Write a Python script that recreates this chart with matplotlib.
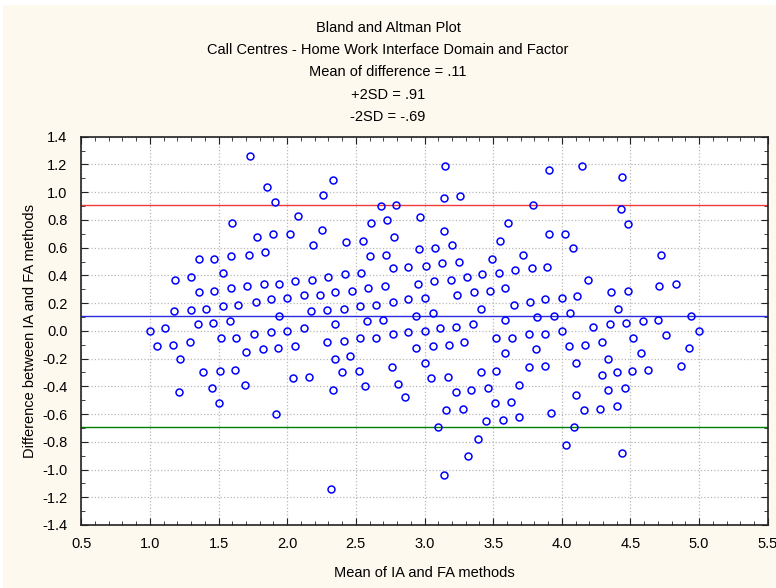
import matplotlib
matplotlib.use("Agg")
import matplotlib.pyplot as plt
from matplotlib.patches import Rectangle
from matplotlib.ticker import MultipleLocator

plt.rcParams['font.family'] = ['Liberation Sans', 'DejaVu Sans']

title_lines = [
    "Bland and Altman Plot",
    "Call Centres - Home Work Interface Domain and Factor",
    "Mean of difference = .11",
    "+2SD = .91",
    "-2SD = -.69",
]
x_label = "Mean of IA and FA methods"
y_label = "Difference between IA and FA methods"

mean_diff = 0.11
upper_sd = 0.91
lower_sd = -0.69

# (mean, difference) pairs
points = [
    (1.60, 0.78), (1.36, 0.52), (1.47, 0.52), (1.59, 0.54), (1.18, 0.37),
    (1.30, 0.39), (1.53, 0.42), (1.36, 0.28), (1.47, 0.29), (1.59, 0.31),
    (1.175, 0.14), (1.30, 0.15), (1.41, 0.16), (1.53, 0.18), (1.64, 0.19),
    (1.00, 0.00), (1.11, 0.02), (1.35, 0.05), (1.46, 0.055), (1.58, 0.07),
    (1.05, -0.11), (1.17, -0.10), (1.29, -0.08), (1.52, -0.05), (1.63, -0.05),
    (1.22, -0.20), (1.39, -0.30), (1.51, -0.29), (1.62, -0.28), (1.21, -0.44),
    (1.45, -0.41), (1.50, -0.52),
    (1.73, 1.26), (1.85, 1.04), (1.91, 0.93), (2.33, 1.09), (2.26, 0.98),
    (2.08, 0.83), (1.78, 0.68), (1.90, 0.70), (2.02, 0.70), (2.25, 0.73),
    (2.19, 0.62), (2.43, 0.64), (2.55, 0.65), (2.61, 0.78), (2.73, 0.80),
    (2.68, 0.90), (2.79, 0.91), (2.78, 0.68), (1.72, 0.55), (1.84, 0.57),
    (2.60, 0.54), (2.72, 0.55), (2.77, 0.45), (2.88, 0.46), (1.71, 0.32),
    (1.83, 0.34), (1.94, 0.34), (2.06, 0.36), (2.18, 0.37), (2.30, 0.39),
    (2.42, 0.41), (2.54, 0.42), (1.77, 0.21), (1.88, 0.23), (2.00, 0.24),
    (2.12, 0.26), (2.24, 0.26), (2.35, 0.28), (2.47, 0.29), (2.59, 0.31),
    (2.71, 0.32), (2.65, 0.19), (2.77, 0.21), (2.88, 0.23), (2.53, 0.18),
    (2.41, 0.16), (2.29, 0.15), (2.17, 0.14), (1.94, 0.11), (2.58, 0.07),
    (2.70, 0.08), (2.35, 0.05), (2.00, 0.00), (2.12, 0.02), (1.88, -0.01),
    (1.76, -0.02), (2.29, -0.08), (2.41, -0.07), (2.53, -0.05), (2.65, -0.05),
    (2.77, -0.02), (2.88, -0.01), (2.06, -0.11), (1.93, -0.125), (1.82, -0.13),
    (1.70, -0.15), (2.35, -0.20), (2.46, -0.18), (2.76, -0.26), (2.52, -0.29),
    (2.40, -0.30), (2.04, -0.34), (2.16, -0.33), (1.69, -0.39), (2.335, -0.43),
    (2.57, -0.40), (2.81, -0.38), (2.86, -0.48), (1.92, -0.60), (2.32, -1.14),
    (3.15, 1.19), (3.91, 1.16), (3.14, 0.96), (3.26, 0.97), (3.79, 0.91),
    (2.97, 0.82), (3.61, 0.78), (3.14, 0.72), (3.55, 0.65), (3.91, 0.70),
    (4.02, 0.70), (4.08, 0.60), (2.96, 0.59), (3.08, 0.60), (3.20, 0.62),
    (3.49, 0.52), (3.72, 0.55), (3.01, 0.47), (3.13, 0.49), (3.25, 0.50),
    (2.95, 0.34), (3.07, 0.36), (3.19, 0.37), (3.31, 0.39), (3.42, 0.41),
    (3.54, 0.42), (3.66, 0.44), (3.78, 0.45), (3.89, 0.46), (3.005, 0.24),
    (3.24, 0.26), (3.36, 0.28), (3.48, 0.29), (3.59, 0.31), (3.65, 0.19),
    (3.77, 0.21), (3.88, 0.23), (4.00, 0.24), (4.11, 0.25), (3.41, 0.16),
    (2.94, 0.11), (3.06, 0.13), (3.82, 0.10), (3.94, 0.11), (4.06, 0.13),
    (3.59, 0.075), (3.00, 0.00), (3.11, 0.02), (3.23, 0.03), (3.35, 0.05),
    (3.29, -0.08), (3.52, -0.055), (3.64, -0.05), (3.76, -0.02), (3.88, -0.02),
    (4.00, 0.00), (2.94, -0.125), (3.06, -0.11), (3.18, -0.10), (3.81, -0.13),
    (4.05, -0.11), (3.59, -0.16), (3.00, -0.23), (4.10, -0.23), (3.41, -0.30),
    (3.52, -0.29), (3.76, -0.26), (3.88, -0.25), (3.05, -0.34), (3.17, -0.33),
    (3.69, -0.39), (3.23, -0.44), (3.34, -0.43), (3.46, -0.41), (4.10, -0.46),
    (3.16, -0.57), (3.28, -0.56), (3.51, -0.52), (3.63, -0.51), (3.45, -0.65),
    (3.57, -0.64), (3.69, -0.62), (3.92, -0.59), (3.10, -0.69), (4.09, -0.69),
    (4.03, -0.82), (3.39, -0.78), (3.32, -0.90), (3.14, -1.04),
    (4.15, 1.19), (4.44, 1.11), (4.43, 0.88), (4.485, 0.77), (4.72, 0.55),
    (4.19, 0.37), (4.36, 0.28), (4.48, 0.29), (4.71, 0.32), (4.83, 0.34),
    (4.41, 0.16), (4.94, 0.11), (4.23, 0.03), (4.35, 0.05), (4.47, 0.055),
    (4.59, 0.07), (4.70, 0.08), (5.00, 0.00), (4.76, -0.03), (4.52, -0.05),
    (4.17, -0.10), (4.29, -0.08), (4.93, -0.125), (4.575, -0.16), (4.34, -0.20),
    (4.87, -0.25), (4.515, -0.29), (4.63, -0.28), (4.29, -0.315), (4.40, -0.30),
    (4.34, -0.43), (4.46, -0.41), (4.16, -0.57), (4.28, -0.56), (4.40, -0.54),
    (4.44, -0.88),
]

xs = [p[0] for p in points]
ys = [p[1] for p in points]

fig = plt.figure(figsize=(7.76, 5.88), dpi=100)
fig.patch.set_facecolor("white")
fig.patches.append(Rectangle((3 / 776, 0), 1, 1 - 5 / 588, transform=fig.transFigure,
                             facecolor="#fef9ee", edgecolor="none", zorder=-1))

ax = fig.add_axes([81.3 / 776, 1 - 525 / 588, (767.7 - 81.3) / 776, (525 - 136.7) / 588])
ax.set_facecolor("white")

ax.plot(xs, ys, linestyle="none", marker="o", markersize=5.0,
        markerfacecolor="none", markeredgecolor="#0000ff", markeredgewidth=1.1,
        zorder=3)
ax.axhline(upper_sd, color="#f03a3a", linewidth=1.0, zorder=2)
ax.axhline(mean_diff, color="#2a2ae0", linewidth=1.0, zorder=2)
ax.axhline(lower_sd, color="#008000", linewidth=1.0, zorder=2)

ax.set_xlim(0.5, 5.5)
ax.set_ylim(-1.4, 1.4)
ax.xaxis.set_major_locator(MultipleLocator(0.5))
ax.xaxis.set_minor_locator(MultipleLocator(0.1))
ax.yaxis.set_major_locator(MultipleLocator(0.2))
ax.yaxis.set_minor_locator(MultipleLocator(0.1))
ax.xaxis.set_major_formatter(plt.FuncFormatter(lambda v, p: f"{v:.1f}"))
ax.yaxis.set_major_formatter(plt.FuncFormatter(lambda v, p: f"{v:.1f}"))
ax.tick_params(which="both", direction="in", top=True, right=True,
               labelsize=10.5, color="#222222")
ax.tick_params(which="major", length=5)
ax.tick_params(which="minor", length=3)
ax.tick_params(axis="x", which="major", pad=8.5)
ax.tick_params(axis="y", which="major", pad=10)
ax.grid(True, which="major", linestyle=":", color="#b8b8b8", linewidth=0.9)
for s in ax.spines.values():
    s.set_color("#222222")
    s.set_linewidth(1.2)

ax.set_xlabel(x_label, fontsize=10.5)
ax.set_ylabel(y_label, fontsize=10.5)
ax.xaxis.set_label_coords(0.5, (525 - 573) / 388.3)
ax.yaxis.set_label_coords((30 - 81.3) / 686.4, 0.5)
ax.xaxis.label.set_va("center")
ax.yaxis.label.set_va("center")

for i, line in enumerate(title_lines):
    fig.text(0.5, 1 - (28 + 22.2 * i) / 588, line, ha="center", va="center",
             fontsize=10.5)

fig.savefig("out.png", dpi=100, facecolor=fig.get_facecolor())
